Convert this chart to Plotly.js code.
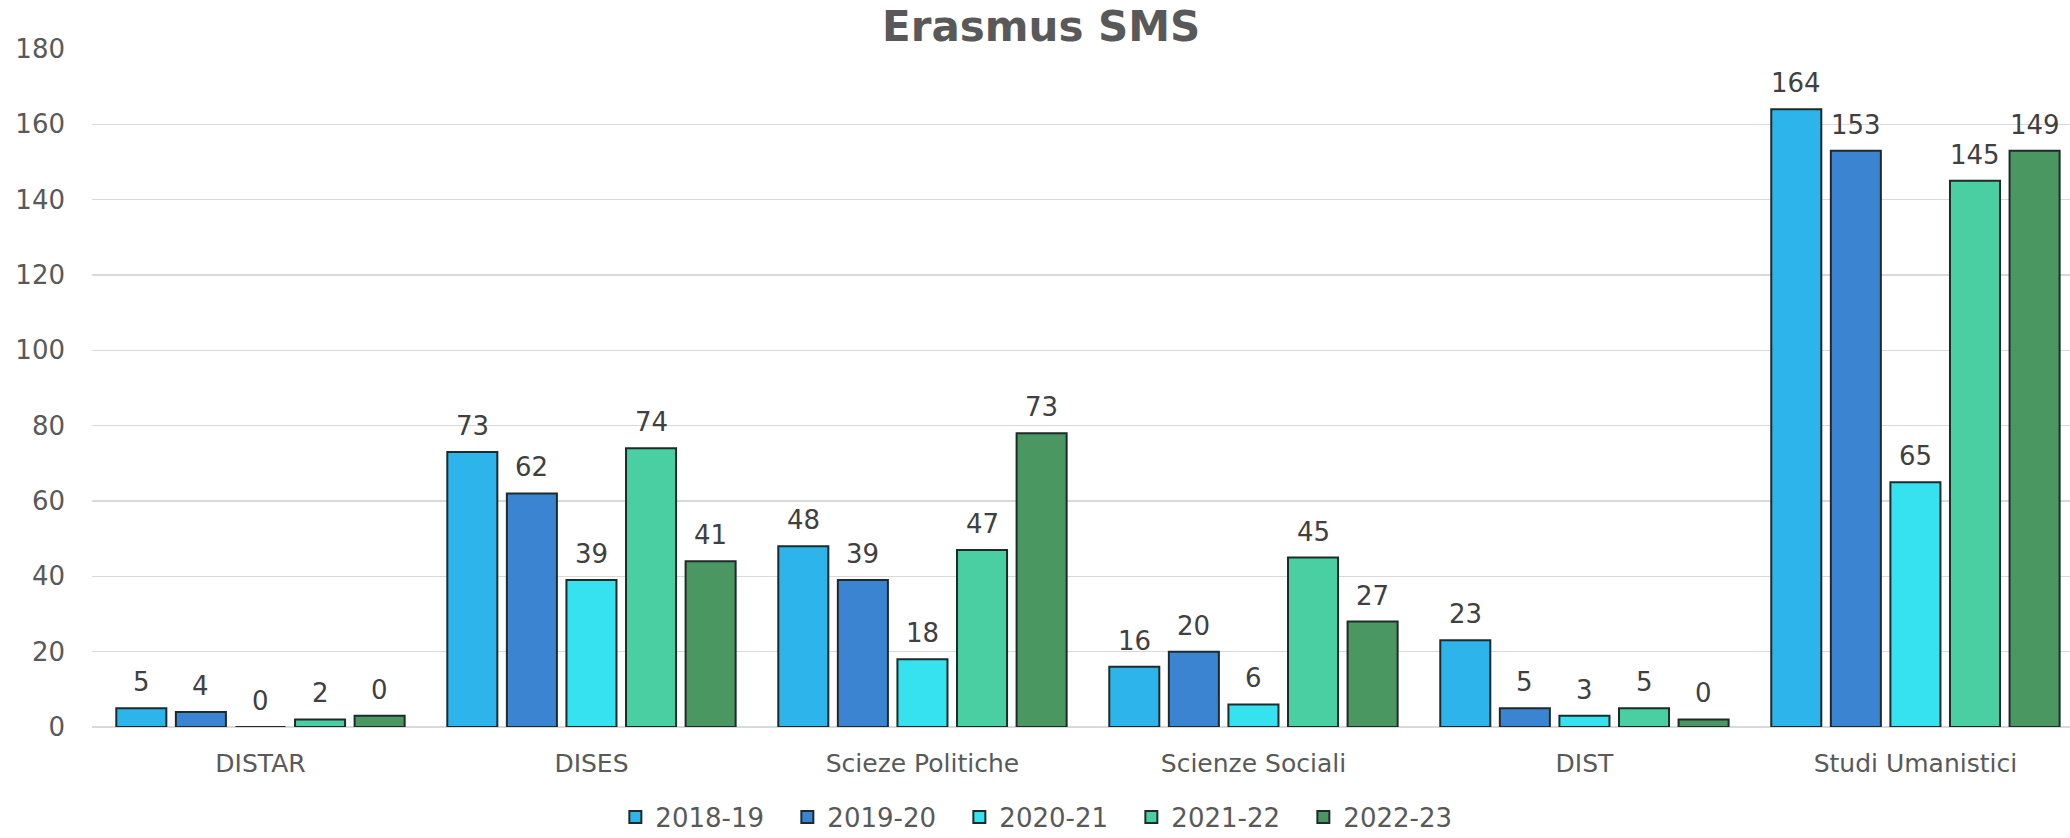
<!DOCTYPE html>
<html>
<head>
<meta charset="utf-8">
<script src="https://cdn.plot.ly/plotly-3.0.1.min.js"></script>
<style>
  html, body { margin: 0; padding: 0; background: #ffffff; }
  #chart { width: 2070px; height: 838px; }
</style>
</head>
<body>
<div id="chart"></div>
<script>
// ---- data ----
const categories = ['DISTAR', 'DISES', 'Scieze Politiche', 'Scienze Sociali', 'DIST', 'Studi Umanistici'];
const seriesNames = ['2018-19', '2019-20', '2020-21', '2021-22', '2022-23'];

// bar heights as drawn
const bars2018 = [5, 73, 48, 16, 23, 164];
const bars2019 = [4, 62, 39, 20, 5, 153];
const bars2020 = [0, 39, 18, 6, 3, 65];
const bars2021 = [2, 74, 47, 45, 5, 145];
const bars2022 = [3, 44, 78, 28, 2, 153];

// data labels as printed
const labels2018 = [5, 73, 48, 16, 23, 164];
const labels2019 = [4, 62, 39, 20, 5, 153];
const labels2020 = [0, 39, 18, 6, 3, 65];
const labels2021 = [2, 74, 47, 45, 5, 145];
const labels2022 = [0, 41, 73, 27, 0, 149];

const yTicks = [0, 20, 40, 60, 80, 100, 120, 140, 160, 180];

// ---- styles ----
const colors = ['#2DB4EA', '#3A84D2', '#36E2F0', '#4ACFA2', '#4B9762'];
const FONT = 'DejaVu Sans, Open Sans, sans-serif';
const bargap = 0.1;
const bargroupgap = 0.16;

const barSets = [bars2018, bars2019, bars2020, bars2021, bars2022];
const labelSets = [labels2018, labels2019, labels2020, labels2021, labels2022];

const traces = seriesNames.map((name, i) => ({
  type: 'bar',
  name: name,
  x: categories,
  y: barSets[i],
  marker: { color: colors[i], line: { color: '#1f2a2a', width: 2 } },
  hoverinfo: 'skip'
}));

// data labels placed above each bar through the axis scales
const nS = seriesNames.length;
const slot = (1 - bargap) / nS;
const annotations = [];
labelSets.forEach((labs, i) => {
  labs.forEach((lab, j) => {
    annotations.push({
      x: j + (i - (nS - 1) / 2) * slot,
      y: barSets[i][j],
      xref: 'x', yref: 'y',
      text: String(lab),
      showarrow: false,
      yanchor: 'bottom',
      yshift: 9,
      font: { family: FONT, size: 26, color: '#404040' }
    });
  });
});

const layout = {
  width: 2070,
  height: 838,
  paper_bgcolor: '#ffffff',
  plot_bgcolor: '#ffffff',
  margin: { l: 92, r: 0, t: 49, b: 111 },
  title: {
    text: '<b>Erasmus SMS</b>',
    font: { family: FONT, size: 42, color: '#595959' },
    x: 0.503, xref: 'container', xanchor: 'center',
    y: 0.9685, yref: 'container', yanchor: 'middle'
  },
  barmode: 'group',
  bargap: bargap,
  bargroupgap: bargroupgap,
  xaxis: {
    type: 'category',
    range: [-0.509, 5.467],
    tickfont: { family: FONT, size: 25, color: '#595959' },
    showgrid: false,
    showline: false,
    zeroline: false,
    ticks: '',
    ticklabelstandoff: 19
  },
  yaxis: {
    range: [0, 180],
    tickvals: yTicks,
    ticktext: yTicks.map(String),
    tickfont: { family: FONT, size: 26, color: '#595959' },
    showgrid: true,
    gridcolor: '#d9d9d9',
    gridwidth: 1.5,
    zeroline: true,
    zerolinecolor: '#d9d9d9',
    zerolinewidth: 2,
    showline: false,
    ticks: '',
    ticklabelstandoff: 26
  },
  showlegend: true,
  legend: {
    orientation: 'h',
    xref: 'container', yref: 'container',
    x: 0.505, xanchor: 'center',
    y: 0.025, yanchor: 'middle',
    font: { family: FONT, size: 26, color: '#595959' },
    traceorder: 'normal',
    itemwidth: 30,
    entrywidth: 127,
    entrywidthmode: 'pixels'
  },
  annotations: annotations
};

Plotly.newPlot('chart', traces, layout, { displayModeBar: false, staticPlot: true });
</script>
</body>
</html>
